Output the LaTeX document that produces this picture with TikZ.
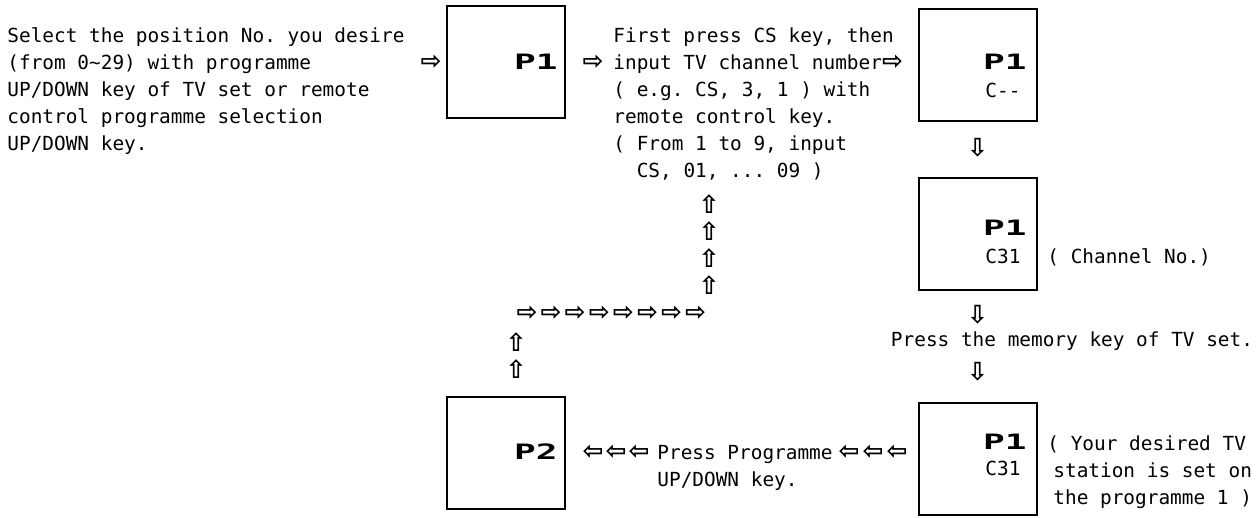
\documentclass[tikz,border=0pt]{standalone}
\usepackage{fontspec}
\usepackage{graphicx}
\usetikzlibrary{positioning}
\setmonofont{DejaVu Sans Mono}
\newfontfamily\arrowfont{DejaVu Sans}
\newcommand{\bigp}[1]{\scalebox{1.7}[1]{#1}}

\tikzset{
  tvbox/.style={draw=black, line width=1pt, minimum width=59pt, minimum height=56pt, inner sep=0pt},
  txt/.style={inner sep=0pt, align=left, anchor=north west, font=\ttfamily\fontsize{9.7}{13.5}\selectfont},
  oneline/.style={inner sep=0pt, font=\ttfamily\fontsize{9.7}{13.5}\selectfont},
  plabel/.style={inner sep=0pt, anchor=base east, font=\ttfamily\bfseries\fontsize{10.6}{12}\selectfont},
  clabel/.style={inner sep=0pt, anchor=base west, font=\ttfamily\fontsize{9.7}{12}\selectfont},
  warrow/.style={inner sep=0pt, font=\arrowfont\bfseries\fontsize{12.5}{14}\selectfont}
}

\begin{document}
\begin{tikzpicture}[x=0.5pt, y=-0.5pt]
\useasboundingbox (0,0) rectangle (1260,518);

% Select the position
\node[txt] (sel) at (7,27) {Select the position No. you desire\\(from 0\textasciitilde29) with programme\\UP/DOWN key of TV set or remote\\control programme selection\\UP/DOWN key.};
\node[warrow] (a1) at (431,62) {⇨};

% first P1 box
\node[tvbox] (boxa) at (506,62.5) {};
\node[plabel] (pa) at (558,70) {\bigp{P1}};
\node[warrow] (a2) at (593,62) {⇨};

% CS key and channel number
\node[txt] (cs) at (613,27) {First press CS key, then\\input TV channel number{\arrowfont\bfseries\fontsize{12.5}{13.5}\selectfont ⇨}\\( e.g. CS, 3, 1 ) with\\remote control key.\\( From 1 to 9, input\\\hspace*{11.7pt}CS, 01, ... 09 )};

% P1 C-- box
\node[tvbox] (boxb) at (977.5,65) {};
\node[plabel] (pb) at (1027,69.5) {\bigp{P1}};
\node[clabel] (cb) at (985,98) {C--};
\node[warrow] (a3) at (977.5,148) {⇩};

% P1 C31 box, channel No.
\node[tvbox, below=27.5pt of boxb] (boxc) {};
\node[plabel] (pc) at (1027,235.5) {\bigp{P1}};
\node[clabel] (cc) at (985,264) {C31};
\node[oneline, anchor=base west] (chno) at (1047,264) {( Channel No.)};

% memory key
\node[warrow] (a4) at (977.5,315) {⇩};
\node[oneline, anchor=base] (mem) at (1072,347) {Press the memory key of TV set.};
\node[warrow] (a5) at (977.5,372) {⇩};

% P1 C31 box, station set
\node[tvbox, below=55.5pt of boxc] (boxd) {};
\node[plabel] (pd) at (1027,449.5) {\bigp{P1}};
\node[clabel] (cd) at (985,476) {C31};
\node[txt] (stat) at (1047,435) {( Your desired TV\\\hspace*{3pt}station is set on\\\hspace*{3pt}the programme 1 )};

% programme UP/DOWN key
\foreach \x [count=\i] in {593,616,639,849,873,897}
  \node[warrow] (l\i) at (\x,452) {⇦};
\node[txt] (prog) at (657,445) {Press Programme\\UP/DOWN key.};

% P2 box
\node[tvbox] (boxp) at (506,453) {};
\node[plabel] (pp) at (558,459.5) {\bigp{P2}};

% back to CS key
\foreach \y [count=\i] in {369,342}
  \node[warrow] (u\i) at (516,\y) {⇧};
\foreach \i in {0,...,7}
  \node[warrow] (r\i) at ({527+24.1*\i},313) {⇨};
\foreach \y [count=\i] in {285,258,231,204}
  \node[warrow] (v\i) at (709,\y) {⇧};

\end{tikzpicture}
\end{document}
